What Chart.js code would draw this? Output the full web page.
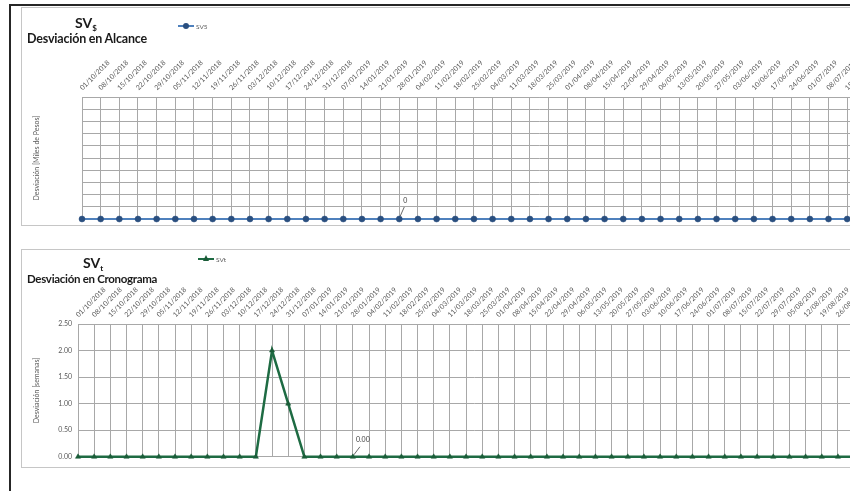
<!DOCTYPE html>
<html><head><meta charset="utf-8">
<script src="https://cdn.jsdelivr.net/npm/chart.js@4.4.0/dist/chart.umd.min.js"></script>
<style>
html,body{margin:0;padding:0;background:#fff;}
body{width:850px;height:491px;overflow:hidden;position:relative;font-family:Lato,"Open Sans",sans-serif;}
.abs{position:absolute;}
#frame{left:9px;top:4px;width:950px;height:520px;border-left:2px solid #262626;border-top:2px solid #262626;}
.box{border:1px solid #c6c6c6;box-sizing:border-box;}
#box1{left:21px;top:7px;width:1000px;height:219px;}
#box2{left:21px;top:249px;width:1000px;height:219px;}
.title{font-weight:bold;color:#1a1a1a;white-space:nowrap;line-height:1;font-size:12.5px;}
.title sub{font-size:8px;vertical-align:-3px;}
.big{font-size:14px;}
.leg{display:flex;align-items:center;font-size:6.5px;color:#595959;white-space:nowrap;}
.sym{position:relative;width:16px;height:8px;margin-right:2px;}
.sym .ln{position:absolute;left:0;right:0;top:3px;height:2px;}
.sym .dot{position:absolute;left:5px;top:1px;width:6px;height:6px;border-radius:50%;background:#2a4f7f;}
.sym .tri{position:absolute;left:5px;top:0px;width:0;height:0;border-left:3px solid transparent;border-right:3px solid transparent;border-bottom:6px solid #1a5c38;}
#c1wrap{left:21px;top:7px;width:1000px;height:218px;}
#c2wrap{left:21px;top:250px;width:900px;height:217px;}
</style>
</head>
<body>
<div id="frame" class="abs"></div>
<div id="box1" class="abs box"></div>
<div id="box2" class="abs box"></div>
<div id="c1wrap" class="abs"><canvas id="c1"></canvas></div>
<div id="c2wrap" class="abs"><canvas id="c2"></canvas></div>

<div class="abs title big" style="left:75px;top:16px">SV<sub>$</sub></div>
<div class="abs title" style="left:27px;top:33px;letter-spacing:-0.2px">Desviación en Alcance</div>
<div class="abs leg" style="left:178px;top:22px"><span class="sym"><span class="ln" style="background:#4f81bd"></span><span class="dot"></span></span><span>SV5</span></div>

<div class="abs title big" style="left:83px;top:256px">SV<sub>t</sub></div>
<div class="abs title" style="left:27px;top:273px;font-size:11.5px;letter-spacing:-0.3px">Desviación en Cronograma</div>
<div class="abs leg" style="left:198px;top:255px"><span class="sym"><span class="ln" style="background:#1e6b43"></span><span class="tri"></span></span><span>SVt</span></div>

<script>
// ---- data ----
const weekLabels = [
 '01/10/2018','08/10/2018','15/10/2018','22/10/2018','29/10/2018',
 '05/11/2018','12/11/2018','19/11/2018','26/11/2018','03/12/2018',
 '10/12/2018','17/12/2018','24/12/2018','31/12/2018','07/01/2019',
 '14/01/2019','21/01/2019','28/01/2019','04/02/2019','11/02/2019',
 '18/02/2019','25/02/2019','04/03/2019','11/03/2019','18/03/2019',
 '25/03/2019','01/04/2019','08/04/2019','15/04/2019','22/04/2019',
 '29/04/2019','06/05/2019','13/05/2019','20/05/2019','27/05/2019',
 '03/06/2019','10/06/2019','17/06/2019','24/06/2019','01/07/2019',
 '08/07/2019','15/07/2019','22/07/2019','29/07/2019','05/08/2019',
 '12/08/2019','19/08/2019','26/08/2019','02/09/2019','09/09/2019'
];
const sv5Values = [
 0,0,0,0,0, 0,0,0,0,0,
 0,0,0,0,0, 0,0,0,0,0,
 0,0,0,0,0, 0,0,0,0,0,
 0,0,0,0,0, 0,0,0,0,0,
 0,0,0,0,0, 0,0,0,0,0
];
const svtValues = [
 0,0,0,0,0, 0,0,0,0,0,
 0,0,2,1,0, 0,0,0,0,0,
 0,0,0,0,0, 0,0,0,0,0,
 0,0,0,0,0, 0,0,0,0,0,
 0,0,0,0,0, 0,0,0,0,0
];
const sv5YTicks = {min:0, max:1, step:0.1};
const svtYTicks = {min:0, max:2.5, step:0.5};
const noteIndex = 17;

// ---- plugin: single data label with leader line ----
const noteLabel = {
  id: 'noteLabel',
  afterDatasetsDraw(chart, args, o) {
    if (!o || o.index == null) return;
    const pt = chart.getDatasetMeta(0).data[o.index];
    const v = chart.data.datasets[0].data[o.index];
    const ctx = chart.ctx;
    ctx.save();
    ctx.strokeStyle = '#404040'; ctx.lineWidth = 0.8;
    ctx.beginPath();
    ctx.moveTo(pt.x + o.lx0, pt.y + o.ly0);
    ctx.lineTo(pt.x + o.lx1, pt.y + o.ly1);
    ctx.stroke();
    ctx.fillStyle = '#404040';
    ctx.font = '7px Lato';
    ctx.textAlign = 'left'; ctx.textBaseline = 'middle';
    ctx.fillText(v.toFixed(o.decimals), pt.x + o.tx, pt.y + o.ty);
    ctx.restore();
  }
};

Chart.defaults.font.family = 'Lato';
const gridCol = '#a8a8a8';
const tickCol = '#595959';

function xAxis(h) {
  return {
    position: 'top', offset: false,
    grid: {color: gridCol, drawTicks: false, lineWidth: 1},
    border: {color: gridCol},
    ticks: {autoSkip: false, minRotation: 45, maxRotation: 45, padding: 5, labelOffset: 5,
            font: {size: 7}, color: tickCol},
    afterFit(s) { s.height = h; s.paddingLeft = 0; s.paddingRight = 0; }
  };
}

new Chart(document.getElementById('c1'), {
  type: 'line',
  data: {labels: weekLabels, datasets: [{
    label: 'SV5', data: sv5Values, borderColor: '#4f81bd', borderWidth: 2,
    pointStyle: 'circle', pointRadius: 3, pointBackgroundColor: '#2a4f7f',
    pointBorderColor: '#2a4f7f', pointBorderWidth: 0.5, tension: 0, clip: false
  }]},
  options: {
    responsive: true, maintainAspectRatio: false, animation: false,
    layout: {padding: {top: 0, left: 0, right: 24.5, bottom: 6}},
    plugins: {legend: {display: false}, tooltip: {enabled: false},
      noteLabel: {index: noteIndex, decimals: 0, tx: 4, ty: -18, lx0: 1, ly0: -3, lx1: 5, ly1: -12}},
    scales: {
      x: xAxis(90),
      y: {min: sv5YTicks.min, max: sv5YTicks.max,
          ticks: {display: false, stepSize: sv5YTicks.step},
          grid: {color: gridCol, drawTicks: false}, border: {color: gridCol},
          title: {display: true, text: 'Desviación [Miles de Pesos]', font: {size: 7}, color: tickCol, padding: {top: 12, bottom: 0}},
          afterFit(s) { s.width = 61; }}
    }
  },
  plugins: [noteLabel]
});

new Chart(document.getElementById('c2'), {
  type: 'line',
  data: {labels: weekLabels, datasets: [{
    label: 'SVt', data: svtValues, borderColor: '#1e6b43', borderWidth: 2.5,
    pointStyle: 'triangle', pointRadius: 3, pointBackgroundColor: '#1a5c38',
    pointBorderColor: '#1a5c38', pointBorderWidth: 0.5, tension: 0, clip: false
  }]},
  options: {
    responsive: true, maintainAspectRatio: false, animation: false,
    layout: {padding: {top: 0, left: 0, right: 50.7, bottom: 7}},
    plugins: {legend: {display: false}, tooltip: {enabled: false},
      noteLabel: {index: noteIndex, decimals: 2, tx: 3, ty: -17, lx0: 1, ly0: -2, lx1: 7, ly1: -10}},
    scales: {
      x: xAxis(74),
      y: {min: svtYTicks.min, max: svtYTicks.max,
          ticks: {stepSize: svtYTicks.step, callback: v => Number(v).toFixed(2), font: {size: 7}, color: tickCol, padding: 6},
          grid: {color: gridCol, drawTicks: false}, border: {color: gridCol},
          title: {display: true, text: 'Desviación [semanas]', font: {size: 7}, color: tickCol, padding: {top: 12, bottom: 0}},
          afterFit(s) { s.width = 57; }}
    }
  },
  plugins: [noteLabel]
});
</script>
</body></html>
